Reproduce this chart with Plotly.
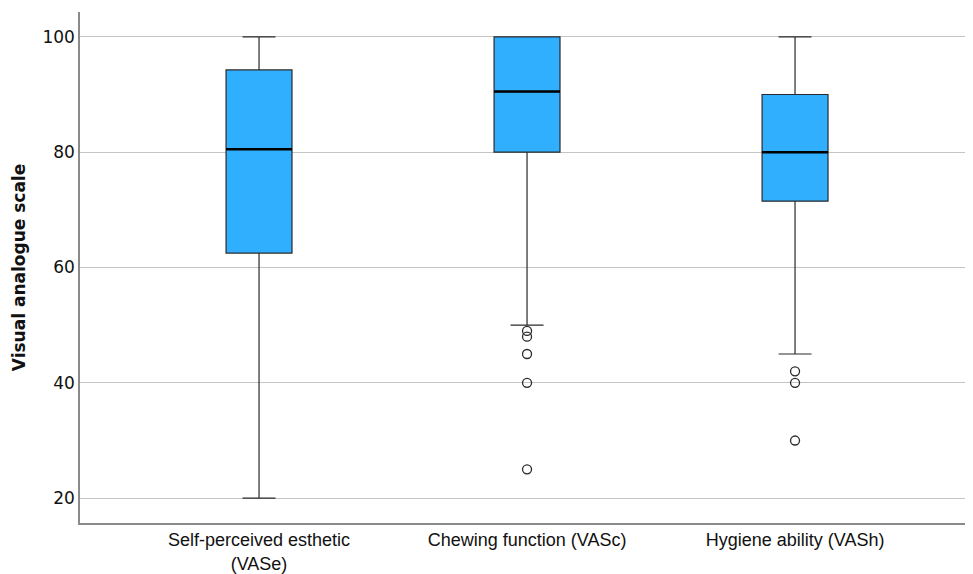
import plotly.graph_objects as go

categories = ["Self-perceived esthetic<br>(VASe)", "Chewing function (VASc)", "Hygiene ability (VASh)"]
q1 = [62.5, 80.0, 71.5]
median = [80.5, 90.5, 80.0]
q3 = [94.25, 100.0, 90.0]
lower_fence = [20.0, 50.0, 45.0]
upper_fence = [100.0, 100.0, 100.0]
outliers = [[], [49, 48, 45, 40, 25], [42, 40, 30]]
y_ticks = [20, 40, 60, 80, 100]

positions = list(range(len(categories)))
box_width = 0.246

fig = go.Figure()
fig.add_trace(go.Box(
    x=positions, q1=q1, median=median, q3=q3,
    lowerfence=lower_fence, upperfence=upper_fence,
    width=box_width, whiskerwidth=0.5,
    fillcolor="#31AFFF", line=dict(color="#2a2a2a", width=1.2),
    boxpoints=False, showlegend=False, hoverinfo="skip",
))

# thicker median lines
for i, m in enumerate(median):
    fig.add_trace(go.Scatter(
        x=[i - box_width / 2, i + box_width / 2], y=[m, m], mode="lines",
        line=dict(color="#000000", width=2.5), showlegend=False, hoverinfo="skip",
    ))

# outliers
for i, pts in enumerate(outliers):
    if pts:
        fig.add_trace(go.Scatter(
            x=[i] * len(pts), y=pts, mode="markers",
            marker=dict(symbol="circle-open", size=9, color="#2a2a2a", line=dict(width=1.3)),
            showlegend=False, hoverinfo="skip",
        ))

fig.update_layout(
    width=973, height=574,
    margin=dict(l=72, r=8, t=4, b=59),
    paper_bgcolor="white", plot_bgcolor="white",
    font=dict(family="Liberation Sans, Arial, sans-serif", color="#111111"),
)
fig.update_xaxes(
    range=[-0.668, 2.664], tickmode="array", tickvals=positions, ticktext=categories,
    showgrid=False, zeroline=False, showline=True, linecolor="#8a8a8a", linewidth=1.5,
    ticks="", tickfont=dict(size=18, color="#111111"),
)
fig.update_yaxes(
    range=[15.7, 104.3], tickmode="array", tickvals=y_ticks,
    showgrid=True, gridcolor="#c4c4c4", gridwidth=1.3, zeroline=False,
    showline=True, linecolor="#8a8a8a", linewidth=1.5, ticks="",
    tickfont=dict(size=17, color="#111111", family="DejaVu Sans"),
    title=dict(text="<b>Visual analogue scale</b>",
               font=dict(size=17, color="#111111", family="DejaVu Sans"), standoff=12),
)

fig.write_html("out.html")
